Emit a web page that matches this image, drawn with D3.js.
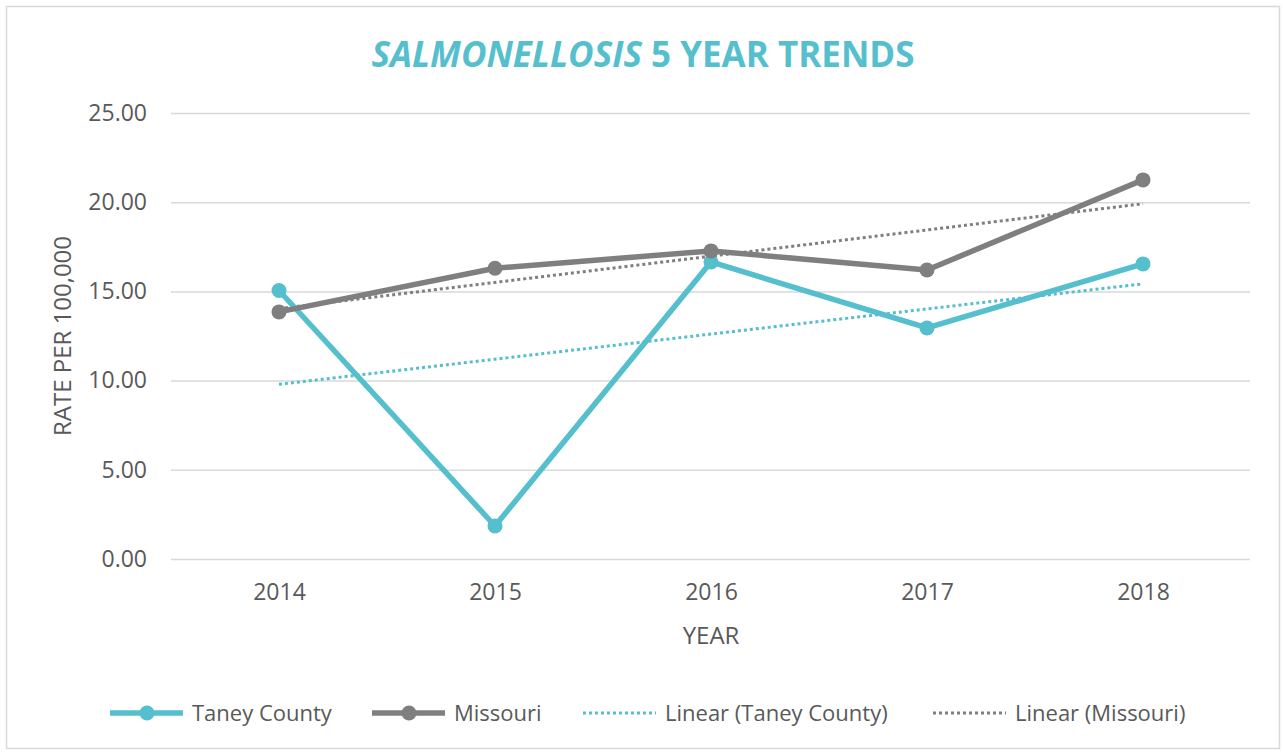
<!DOCTYPE html>
<html>
<head>
<meta charset="utf-8">
<script src="https://cdn.jsdelivr.net/npm/d3@7"></script>
<style>
  body { margin: 0; background: #fff; }
  svg { display: block; font-family: "Open Sans", sans-serif; }
</style>
</head>
<body>
<div id="chart"></div>
<script>
// values
var years = ["2014", "2015", "2016", "2017", "2018"]
var taney = [15.05, 1.85, 16.65, 12.95, 16.54]
var missouri = [13.85, 16.3, 17.27, 16.2, 21.25]
var yTicks = [0, 5, 10, 15, 20, 25]

var width = 1283, height = 752
var margin = ({top: 113, right: 32, bottom: 193, left: 171})

var teal = "#55BFCD", gray = "#7F7F7F", textColor = "#595959"

var x = d3.scalePoint()
  .domain(years)
  .range([margin.left, width - margin.right])
  .padding(0.5)

var y = d3.scaleLinear()
  .domain([0, 25])
  .range([height - margin.bottom, margin.top])

// least squares trend, same as Excel's linear trendline
function trend(vals) {
  var n = vals.length
  var mx = (n - 1) / 2, my = d3.mean(vals)
  var num = d3.sum(vals, (v, i) => (i - mx) * (v - my))
  var den = d3.sum(vals, (v, i) => (i - mx) * (i - mx))
  var b = num / den, a = my - b * mx
  return vals.map((v, i) => a + b * i)
}

var svg = d3.select("#chart").append("svg")
  .attr("width", width)
  .attr("height", height)

svg.append("rect")
  .attr("x", 6.5).attr("y", 6.5)
  .attr("width", width - 10).attr("height", height - 10)
  .attr("fill", "#fff")
  .attr("stroke", "#D9D9D9")
  .attr("stroke-width", 1.5)

// title
var title = svg.append("text")
  .attr("x", 643)
  .attr("y", 67)
  .attr("text-anchor", "middle")
  .attr("fill", teal)
  .attr("font-size", 35)
  .attr("font-weight", "bold")
title.append("tspan").attr("font-style", "italic").text("SALMONELLOSIS")
title.append("tspan").text(" 5 YEAR TRENDS")

// y axis + grid
var yAxis = g => g
  .attr("transform", `translate(${margin.left},0)`)
  .call(d3.axisLeft(y).tickValues(yTicks).tickFormat(d3.format(".2f"))
    .tickSize(-(width - margin.left - margin.right - 1)).tickPadding(24))
  .call(g => g.select(".domain").remove())
  .call(g => g.selectAll(".tick line").attr("stroke", "#D9D9D9").attr("stroke-width", 1.5))
  .call(g => g.selectAll(".tick text").attr("fill", textColor).attr("font-size", 23)
    .attr("font-family", "Open Sans, sans-serif"))

svg.append("g").call(yAxis)

var xAxis = g => g
  .attr("transform", `translate(0,${height - margin.bottom})`)
  .call(d3.axisBottom(x).tickSize(0).tickPadding(25))
  .call(g => g.select(".domain").remove())
  .call(g => g.selectAll(".tick text").attr("fill", textColor).attr("font-size", 23)
    .attr("font-family", "Open Sans, sans-serif"))

svg.append("g").call(xAxis)

// axis titles
svg.append("text")
  .attr("x", 711).attr("y", 644)
  .attr("text-anchor", "middle")
  .attr("fill", textColor).attr("font-size", 24)
  .text("YEAR")

svg.append("text")
  .attr("transform", "translate(71,336) rotate(-90)")
  .attr("text-anchor", "middle")
  .attr("fill", textColor).attr("font-size", 24)
  .text("RATE PER 100,000")

var line = d3.line()
  .x((d, i) => x(years[i]))
  .y(d => y(d))

// trend lines
svg.append("path")
  .datum(trend(taney))
  .attr("fill", "none")
  .attr("stroke", teal)
  .attr("stroke-width", 3)
  .attr("stroke-dasharray", "3,3")
  .attr("d", line)

svg.append("path")
  .datum(trend(missouri))
  .attr("fill", "none")
  .attr("stroke", gray)
  .attr("stroke-width", 3)
  .attr("stroke-dasharray", "3,3")
  .attr("d", line)

// data series
var series = [
  {name: "Taney County", values: taney, color: teal},
  {name: "Missouri", values: missouri, color: gray}
]

series.forEach(s => {
  svg.append("path")
    .datum(s.values)
    .attr("fill", "none")
    .attr("stroke", s.color)
    .attr("stroke-width", 5.5)
    .attr("stroke-linejoin", "round")
    .attr("d", line)

  svg.append("g")
    .selectAll("circle")
    .data(s.values)
    .join("circle")
    .attr("cx", (d, i) => x(years[i]))
    .attr("cy", d => y(d))
    .attr("r", 7.5)
    .attr("fill", s.color)
})

// legend
var legendItems = [
  {name: "Taney County", color: teal, x: 110, dotted: false},
  {name: "Missouri", color: gray, x: 372, dotted: false},
  {name: "Linear (Taney County)", color: teal, x: 583, dotted: true},
  {name: "Linear (Missouri)", color: gray, x: 933, dotted: true}
]

var lg = svg.append("g")
  .selectAll("g")
  .data(legendItems)
  .join("g")
  .attr("transform", d => `translate(${d.x},713)`)

lg.append("line")
  .attr("x1", 0).attr("x2", 73)
  .attr("stroke", d => d.color)
  .attr("stroke-width", d => d.dotted ? 3 : 5.5)
  .attr("stroke-dasharray", d => d.dotted ? "3,3" : null)

lg.filter(d => !d.dotted).append("circle")
  .attr("cx", 37).attr("r", 7.5)
  .attr("fill", d => d.color)

lg.append("text")
  .attr("x", 82)
  .attr("dy", "0.35em")
  .attr("fill", textColor)
  .attr("font-size", 22)
  .text(d => d.name)
</script>
</body>
</html>
